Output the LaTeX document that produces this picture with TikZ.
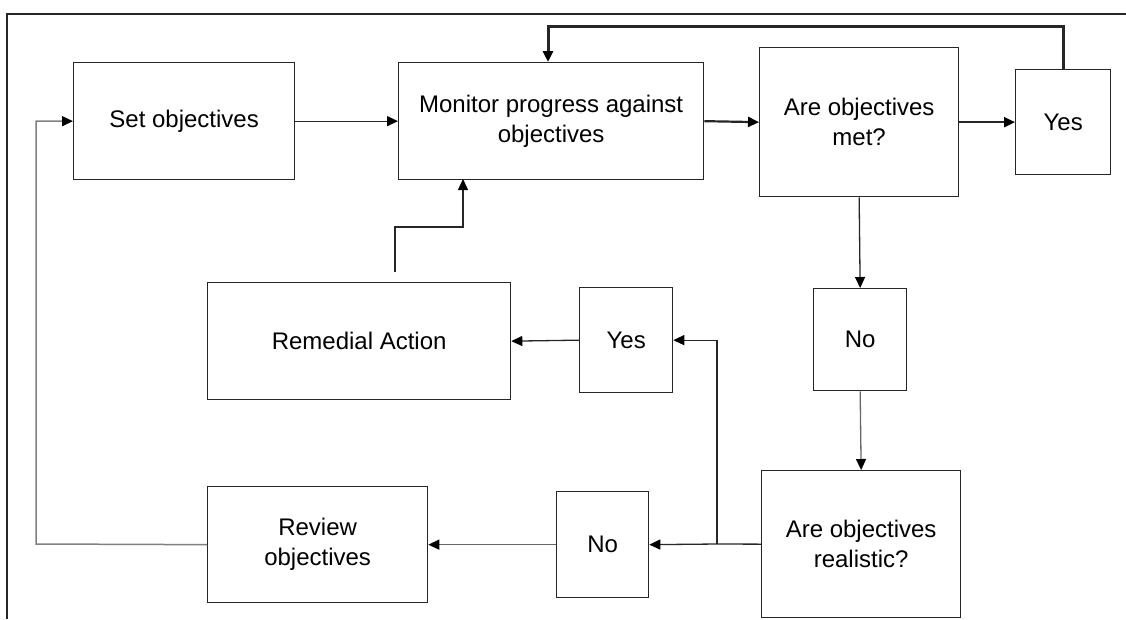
\documentclass[tikz,border=0pt]{standalone}
\usepackage{fontspec}
\setmainfont{Liberation Sans}
\usetikzlibrary{arrows.meta}
\begin{document}
\begin{tikzpicture}[x=1pt,y=-1pt,
  box/.style={draw=black!85, line width=1.3pt, inner sep=0pt, align=center,
    anchor=north west, font=\fontsize{24}{30}\selectfont},
  flow/.style={draw=black!85, line width=1.3pt,
    -{Triangle[length=11pt,width=10pt,color=black]}},
  heavy/.style={flow, line width=2.2pt},
  boldloop/.style={flow, line width=3pt},
  soft/.style={flow, draw=black!60},
  back/.style={flow, draw=black!50, line width=1.5pt}]
  \useasboundingbox (0,0) rectangle (1126,619);
  % outer frame (top and left edges)
  \draw[line width=1.3pt, black!85] (7,619) -- (7,14) -- (1126,14);

  % boxes
  \node[box, minimum width=221pt, minimum height=117pt] (set) at (73,62) {Set objectives};
  \node[box, minimum width=305pt, minimum height=117pt] (mon) at (398,62) {Monitor progress against\\objectives};
  \node[box, minimum width=199pt, minimum height=149pt] (met) at (759,47) {Are objectives\\met?};
  \node[box, minimum width=95pt, minimum height=105pt] (yesA) at (1015,69) {Yes};
  \node[box, minimum width=93pt, minimum height=102pt] (noA) at (813,288) {No};
  \node[box, minimum width=199pt, minimum height=147pt] (real) at (761,470) {Are objectives\\realistic?};
  \node[box, minimum width=92pt, minimum height=106pt] (noB) at (556,491) {No};
  \node[box, minimum width=220pt, minimum height=116pt] (rev) at (207,486) {Review\\objectives};
  \node[box, minimum width=93pt, minimum height=105pt] (yesB) at (579,287) {Yes};
  \node[box, minimum width=303pt, minimum height=117pt] (rem) at (207,282) {Remedial Action};

  % free ends and bends
  \coordinate (loopTop) at (548,26);
  \coordinate (remStart) at (395,272);
  \coordinate (remBend) at (395,227);
  \coordinate (split) at (717,544);
  \coordinate (backX) at (36,544);

  % connectors
  \draw[flow] (set.east) -- (mon.west);
  \draw[heavy] (mon.east) -- (met.west);
  \draw[heavy] (met.east) -- (yesA.west);
  \draw[boldloop] (yesA.north) |- (loopTop) -- (loopTop |- mon.north);
  \draw[flow] (met.south) -- (noA.north);
  \draw[soft] (noA.south) -- (real.north);
  \draw[flow] (real.west) -- (split) -- (noB.east);
  \draw[flow] (split) |- (yesB.east);
  \draw[flow] (yesB.west) -- (rem.east);
  \draw[flow] (remStart) -- (remBend) -| (463,179);
  \draw[soft] (noB.west) -- (rev.east);
  \draw[back] (rev.west) -- (backX) |- (set.west);
\end{tikzpicture}
\end{document}
